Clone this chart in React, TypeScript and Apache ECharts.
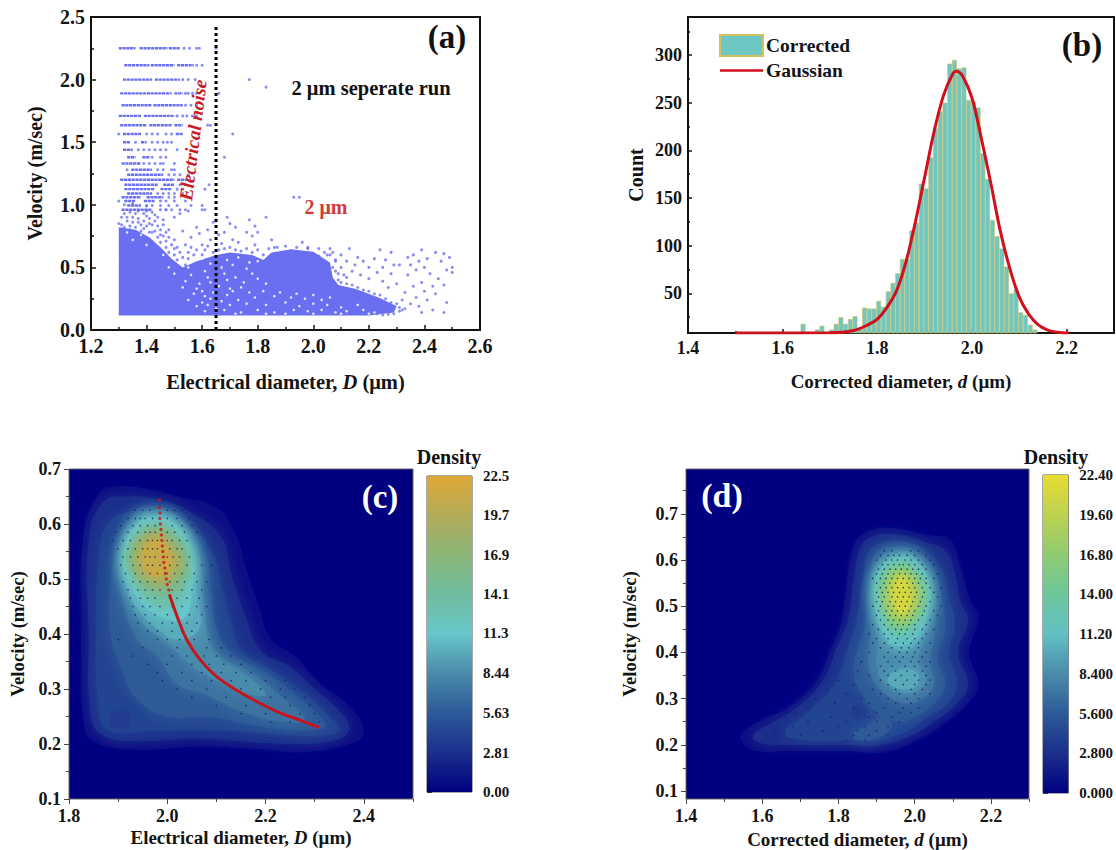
import React, { useEffect, useRef } from "react";
import * as echarts from "echarts";

const FONT = "'Liberation Serif', 'Times New Roman', serif";

// ---------- panel (a) ----------
const aRunsRows: [number, [number, number][], number[]][] = [
  [2.25, [[1.3, 1.36], [1.375, 1.475], [1.48, 1.52]], [1.535, 1.555, 1.58, 1.59, 1.65]],
  [2.115, [[1.32, 1.41], [1.415, 1.5], [1.51, 1.57]], [1.58, 1.6]],
  [2.0, [[1.315, 1.42], [1.43, 1.52]], [1.53, 1.55, 1.575]],
  [1.89, [[1.305, 1.49], [1.5, 1.53]], [1.54, 1.55, 1.565, 1.58, 1.66]],
  [1.795, [[1.31, 1.42], [1.425, 1.53]], [1.54, 1.56, 1.58]],
  [1.71, [[1.3, 1.38], [1.39, 1.5]], [1.51, 1.53, 1.545, 1.565, 1.58]],
  [1.635, [[1.305, 1.4], [1.41, 1.49], [1.5, 1.53]], [1.62, 1.63]],
  [1.565, [[1.315, 1.38], [1.505, 1.53]], [1.3, 1.4, 1.42, 1.44, 1.47, 1.49, 1.71]],
  [1.5, [[1.315, 1.34], [1.38, 1.4]], [1.36, 1.42, 1.44, 1.46, 1.475, 1.49]],
  [1.44, [[1.315, 1.35]], [1.37, 1.39, 1.41, 1.43, 1.45, 1.47, 1.51]],
  [1.38, [[1.33, 1.36], [1.385, 1.41]], [1.42, 1.45, 1.47, 1.68]],
  [1.33, [[1.31, 1.38]], [1.39, 1.41, 1.43, 1.45, 1.46, 1.5]],
  [1.28, [[1.345, 1.42]], [1.33, 1.44, 1.46, 1.49, 1.5]],
  [1.24, [[1.33, 1.46]], [1.48, 1.5, 1.52, 1.55]],
  [1.2, [[1.305, 1.5], [1.51, 1.55]], []],
  [1.16, [[1.32, 1.44], [1.46, 1.5]], [1.52, 1.54, 1.625]],
  [1.125, [[1.32, 1.43], [1.45, 1.49]], [1.51, 1.53, 1.61]],
  [1.09, [[1.33, 1.42]], [1.44, 1.46, 1.48, 1.5, 1.53]],
  [1.06, [[1.31, 1.38], [1.4, 1.46]], [1.48, 1.5, 1.55]],
  [1.03, [[1.32, 1.36], [1.39, 1.43]], [1.3, 1.45, 1.47, 1.5, 1.54]],
  [0.995, [[1.33, 1.38]], [1.4, 1.42, 1.45, 1.48, 1.51, 1.56, 1.6]],
  [0.96, [[1.31, 1.42]], [1.45, 1.47, 1.49, 1.52, 1.54, 1.6, 1.61]],
];
const aBodyLeft = [[1.3, 0.115], [2.2, 0.115], [2.29, 0.14], [2.3, 0.19], [2.24, 0.255], [2.15, 0.33], [2.09, 0.36], [2.07, 0.42], [2.06, 0.54], [2.0, 0.625], [1.92, 0.645], [1.85, 0.62], [1.82, 0.56], [1.78, 0.6], [1.7, 0.62], [1.65, 0.6], [1.58, 0.55], [1.53, 0.5], [1.49, 0.57], [1.45, 0.66], [1.41, 0.74], [1.36, 0.8], [1.3, 0.82]];
const aFlecks = [
  [1.53, 0.55], [1.6, 0.57], [1.63, 0.53], [1.69, 0.56], [1.73, 0.58], [1.77, 0.54], [1.55, 0.5], [1.61, 0.47], [1.67, 0.5], [1.71, 0.52], [1.76, 0.49], [1.8, 0.55],
  [1.5, 0.45], [1.56, 0.44], [1.62, 0.42], [1.68, 0.45], [1.72, 0.42], [1.78, 0.45], [1.48, 0.5], [1.54, 0.39], [1.59, 0.37], [1.63, 0.38], [1.69, 0.4], [1.75, 0.38], [1.8, 0.41],
  [1.53, 0.34], [1.58, 0.33], [1.6, 0.31], [1.66, 0.35], [1.7, 0.33], [1.74, 0.34], [1.83, 0.37], [1.57, 0.29], [1.61, 0.27], [1.64, 0.3], [1.69, 0.28], [1.71, 0.31], [1.77, 0.3], [1.82, 0.31],
  [1.55, 0.24], [1.6, 0.22], [1.63, 0.25], [1.67, 0.23], [1.73, 0.24], [1.79, 0.26], [1.86, 0.27], [1.92, 0.26], [1.97, 0.25], [2.03, 0.24], [1.58, 0.19], [1.62, 0.2], [1.65, 0.17], [1.7, 0.2], [1.76, 0.21], [1.83, 0.2],
  [1.9, 0.22], [1.95, 0.19], [2.0, 0.21], [2.05, 0.2], [2.1, 0.18], [2.16, 0.2], [1.61, 0.15], [1.68, 0.16], [1.74, 0.14], [1.8, 0.16], [1.86, 0.14], [1.93, 0.16], [1.98, 0.15], [2.03, 0.16], [2.08, 0.14], [2.12, 0.15], [2.18, 0.16],
  [1.72, 0.13], [1.83, 0.13], [1.9, 0.13], [2.0, 0.13], [2.1, 0.13], [2.2, 0.13], [1.88, 0.3], [1.94, 0.29], [2.0, 0.28], [2.06, 0.26], [2.22, 0.14], [1.46, 0.6], [1.4, 0.68], [1.35, 0.72], [1.33, 0.78], [1.38, 0.76],
];
const aSparse = [
  [1.31, 0.84], [1.33, 0.9], [1.34, 0.83], [1.36, 0.93], [1.37, 0.86], [1.39, 0.81], [1.4, 0.91], [1.41, 0.85], [1.42, 0.78], [1.43, 0.92], [1.44, 0.83], [1.45, 0.76], [1.46, 0.88], [1.47, 0.71], [1.48, 0.8], [1.5, 0.72], [1.51, 0.66], [1.53, 0.79], [1.54, 0.68], [1.55, 0.62], [1.56, 0.74], [1.52, 0.93], [1.5, 0.9], [1.47, 0.96], [1.55, 0.95],
  [1.58, 0.82], [1.59, 0.77], [1.6, 0.68], [1.62, 0.8], [1.63, 0.72], [1.64, 0.86], [1.65, 0.88], [1.66, 0.76], [1.67, 0.69], [1.68, 0.78], [1.69, 0.9], [1.7, 0.85], [1.71, 0.72], [1.72, 0.82], [1.73, 0.7], [1.76, 0.78], [1.77, 0.88], [1.78, 0.75], [1.79, 0.83], [1.8, 0.78], [1.83, 0.9], [1.79, 0.68], [1.85, 0.72], [1.87, 0.66], [1.96, 0.7], [1.98, 0.65], [1.93, 1.06], [1.95, 1.06], [1.77, 2.0], [1.83, 1.94],
  [2.07, 0.62], [2.06, 0.65], [2.1, 0.6], [2.13, 0.65], [2.12, 0.55], [2.1, 0.5], [2.14, 0.47], [2.15, 0.52], [2.16, 0.58], [2.18, 0.55], [2.12, 0.42], [2.17, 0.44], [2.2, 0.5], [2.2, 0.41], [2.22, 0.57], [2.23, 0.46], [2.24, 0.64], [2.25, 0.5], [2.25, 0.39], [2.26, 0.56], [2.27, 0.34], [2.28, 0.62], [2.28, 0.45], [2.29, 0.52], [2.3, 0.37], [2.31, 0.52],
  [2.33, 0.3], [2.32, 0.24], [2.33, 0.17], [2.34, 0.58], [2.34, 0.44], [2.35, 0.52], [2.35, 0.21], [2.36, 0.6], [2.36, 0.35], [2.37, 0.48], [2.37, 0.26], [2.38, 0.19], [2.38, 0.55], [2.39, 0.64], [2.39, 0.38], [2.39, 0.14], [2.4, 0.5], [2.4, 0.31], [2.41, 0.57], [2.41, 0.24], [2.42, 0.45], [2.43, 0.16], [2.43, 0.35], [2.44, 0.62], [2.44, 0.29], [2.45, 0.41], [2.46, 0.55], [2.47, 0.61], [2.47, 0.14], [2.47, 0.36], [2.48, 0.22], [2.48, 0.48], [2.49, 0.58], [2.5, 0.5], [2.5, 0.46],
  [1.32, 1.0], [1.35, 1.01], [1.4, 0.99], [2.02, 0.59], [2.05, 0.6], [2.08, 0.56], [2.08, 0.47], [2.11, 0.44],
];
const aEdge = [
  [1.3, 0.85], [1.31, 0.9], [1.32, 0.82], [1.32, 0.93], [1.33, 0.87], [1.34, 0.8], [1.34, 0.94], [1.35, 0.86], [1.35, 0.9], [1.36, 0.82], [1.37, 0.95], [1.37, 0.89], [1.38, 0.84], [1.38, 0.79], [1.39, 0.93], [1.39, 0.87], [1.4, 0.83], [1.4, 0.95], [1.41, 0.78], [1.41, 0.89], [1.42, 0.94], [1.42, 0.84], [1.43, 0.79], [1.43, 0.87], [1.44, 0.74], [1.44, 0.9], [1.45, 0.8], [1.45, 0.7], [1.46, 0.84], [1.46, 0.75], [1.47, 0.66], [1.47, 0.78], [1.48, 0.62], [1.48, 0.74], [1.49, 0.68], [1.5, 0.6], [1.5, 0.65], [1.51, 0.56], [1.52, 0.62], [1.53, 0.58], [1.54, 0.52], [1.55, 0.57], [1.56, 0.66], [1.57, 0.6], [1.58, 0.64], [1.6, 0.6], [1.61, 0.64], [1.62, 0.67], [1.64, 0.62], [1.66, 0.64], [1.68, 0.65], [1.7, 0.66], [1.72, 0.64], [1.74, 0.63], [1.76, 0.65], [1.78, 0.62], [1.8, 0.64], [1.82, 0.6], [1.84, 0.65], [1.86, 0.66], [1.9, 0.67], [1.94, 0.66], [1.98, 0.66], [2.02, 0.65], [2.04, 0.62], [2.06, 0.6], [2.08, 0.55], [2.07, 0.5], [2.09, 0.45], [2.09, 0.4], [2.1, 0.38], [2.12, 0.37], [2.14, 0.36], [2.16, 0.34], [2.18, 0.32], [2.2, 0.31], [2.22, 0.29], [2.24, 0.28], [2.26, 0.25], [2.28, 0.22], [2.3, 0.21], [2.31, 0.18], [2.32, 0.16], [2.31, 0.15], [2.29, 0.13], [2.27, 0.125], [2.25, 0.12], [2.23, 0.13],
];
const aNoiseLine = [[1.65, 0], [1.65, 2.44]];

// ---------- panel (b) ----------
const bBinCenters = [1.643, 1.673, 1.683, 1.703, 1.713, 1.723, 1.733, 1.743, 1.753, 1.763, 1.773, 1.783, 1.793, 1.803, 1.813, 1.823, 1.833, 1.843, 1.853, 1.863, 1.873, 1.883, 1.893, 1.903, 1.913, 1.923, 1.933, 1.943, 1.953, 1.963, 1.973, 1.983, 1.993, 2.003, 2.013, 2.023, 2.033, 2.043, 2.053, 2.063, 2.073, 2.083, 2.093, 2.103, 2.113, 2.123, 2.133];
const bCounts = [18, 12, 16, 12, 18, 25, 18, 23, 26, 14, 35, 34, 34, 42, 36, 52, 61, 71, 86, 86, 116, 124, 165, 160, 193, 223, 241, 250, 291, 295, 286, 287, 253, 251, 245, 197, 170, 127, 110, 97, 78, 50, 54, 30, 27, 17, 12];
const bGaussX = [1.5, 1.7, 1.75, 1.78, 1.8, 1.82, 1.84, 1.86, 1.88, 1.9, 1.92, 1.94, 1.96, 1.967, 1.98, 2.0, 2.02, 2.04, 2.06, 2.08, 2.1, 2.12, 2.14, 2.16, 2.18, 2.205];
const bGaussY = [8.4, 8.6, 11, 17, 23, 35, 52, 82, 124, 172, 220, 258, 281, 283, 278, 255, 212, 165, 115, 76, 46, 28, 17, 11.5, 9.2, 8.4];

// ---------- panels (c), (d): density contours, [level, outline] ----------
type Contour = [number, number[][]];
const cContours: Contour[] = [
  [1.0, [[1.86, 0.655], [1.89, 0.668], [1.95, 0.665], [2.02, 0.65], [2.1, 0.63], [2.14, 0.58], [2.16, 0.52], [2.19, 0.44], [2.21, 0.39], [2.26, 0.36], [2.31, 0.31], [2.37, 0.27], [2.4, 0.22], [2.37, 0.2], [2.27, 0.185], [2.2, 0.19], [2.06, 0.195], [1.93, 0.19], [1.85, 0.205], [1.83, 0.235], [1.825, 0.4], [1.83, 0.58]]],
  [2.8, [[1.87, 0.64], [1.92, 0.65], [1.98, 0.645], [2.05, 0.62], [2.11, 0.575], [2.13, 0.51], [2.16, 0.43], [2.19, 0.37], [2.25, 0.34], [2.3, 0.3], [2.35, 0.26], [2.37, 0.225], [2.33, 0.205], [2.25, 0.2], [2.15, 0.205], [2.05, 0.21], [1.94, 0.205], [1.87, 0.215], [1.845, 0.25], [1.84, 0.4], [1.84, 0.57]]],
  [4.2, [[1.88, 0.6], [1.93, 0.625], [1.98, 0.63], [2.04, 0.6], [2.09, 0.55], [2.11, 0.49], [2.13, 0.42], [2.15, 0.37], [2.21, 0.335], [2.28, 0.29], [2.33, 0.25], [2.35, 0.225], [2.3, 0.215], [2.2, 0.22], [2.1, 0.225], [1.98, 0.225], [1.88, 0.225], [1.86, 0.27], [1.855, 0.4], [1.86, 0.53]]],
  [3.6, [[1.885, 0.235], [1.91, 0.23], [1.925, 0.245], [1.91, 0.26], [1.89, 0.255]]],
  [5.6, [[1.9, 0.56], [1.935, 0.62], [1.98, 0.625], [2.03, 0.6], [2.075, 0.55], [2.09, 0.47], [2.1, 0.41], [2.13, 0.365], [2.2, 0.33], [2.26, 0.29], [2.31, 0.25], [2.32, 0.23], [2.26, 0.225], [2.17, 0.235], [2.08, 0.25], [2.0, 0.25], [1.94, 0.28], [1.91, 0.33], [1.885, 0.4], [1.885, 0.5]]],
  [7.0, [[1.9, 0.54], [1.925, 0.605], [1.975, 0.625], [2.025, 0.61], [2.065, 0.55], [2.075, 0.46], [2.085, 0.4], [2.11, 0.36], [2.18, 0.325], [2.24, 0.28], [2.28, 0.245], [2.24, 0.24], [2.15, 0.26], [2.08, 0.29], [2.02, 0.31], [1.98, 0.36], [1.94, 0.39], [1.91, 0.46]]],
  [8.44, [[1.905, 0.54], [1.93, 0.6], [1.975, 0.62], [2.02, 0.605], [2.06, 0.55], [2.07, 0.47], [2.08, 0.4], [2.1, 0.36], [2.16, 0.325], [2.2, 0.29], [2.15, 0.295], [2.09, 0.32], [2.04, 0.35], [2.0, 0.385], [1.95, 0.42], [1.92, 0.47]]],
  [10, [[1.91, 0.54], [1.935, 0.6], [1.975, 0.615], [2.02, 0.6], [2.055, 0.545], [2.06, 0.47], [2.065, 0.41], [2.02, 0.39], [1.98, 0.41], [1.945, 0.44], [1.92, 0.48]]],
  [11.3, [[1.91, 0.54], [1.94, 0.6], [1.98, 0.61], [2.02, 0.595], [2.05, 0.54], [2.05, 0.48], [2.035, 0.43], [1.99, 0.43], [1.95, 0.455], [1.925, 0.49]]],
  [13, [[1.915, 0.54], [1.945, 0.59], [1.98, 0.6], [2.015, 0.585], [2.045, 0.54], [2.04, 0.49], [2.01, 0.45], [1.97, 0.455], [1.94, 0.485]]],
  [15, [[1.925, 0.54], [1.95, 0.582], [1.98, 0.592], [2.01, 0.58], [2.04, 0.54], [2.03, 0.495], [2.0, 0.47], [1.97, 0.475], [1.94, 0.5]]],
  [17, [[1.93, 0.545], [1.955, 0.58], [1.98, 0.587], [2.005, 0.573], [2.032, 0.535], [2.02, 0.5], [1.995, 0.485], [1.965, 0.49], [1.94, 0.51]]],
  [19, [[1.94, 0.545], [1.96, 0.575], [1.98, 0.58], [2.0, 0.565], [2.022, 0.53], [2.01, 0.505], [1.985, 0.495], [1.96, 0.505], [1.945, 0.52]]],
  [21, [[1.95, 0.545], [1.965, 0.567], [1.985, 0.57], [2.0, 0.555], [2.01, 0.53], [1.995, 0.51], [1.975, 0.505], [1.955, 0.52]]],
];
const dContours: Contour[] = [
  [1.0, [[1.543, 0.22], [1.595, 0.253], [1.674, 0.282], [1.744, 0.339], [1.779, 0.405], [1.805, 0.455], [1.823, 0.557], [1.84, 0.629], [1.875, 0.662], [1.945, 0.669], [2.033, 0.654], [2.094, 0.644], [2.12, 0.586], [2.146, 0.513], [2.168, 0.477], [2.142, 0.397], [2.168, 0.332], [2.138, 0.289], [2.076, 0.245], [2.006, 0.209], [1.919, 0.184], [1.814, 0.187], [1.691, 0.187], [1.578, 0.187], [1.551, 0.202]]],
  [2.8, [[1.575, 0.218], [1.62, 0.245], [1.69, 0.28], [1.76, 0.34], [1.795, 0.41], [1.825, 0.47], [1.84, 0.56], [1.855, 0.62], [1.885, 0.65], [1.95, 0.655], [2.02, 0.64], [2.08, 0.62], [2.105, 0.57], [2.12, 0.51], [2.14, 0.47], [2.115, 0.4], [2.14, 0.33], [2.11, 0.29], [2.05, 0.25], [1.99, 0.22], [1.91, 0.2], [1.81, 0.2], [1.69, 0.2], [1.6, 0.203]]],
  [4.2, [[1.66, 0.225], [1.72, 0.27], [1.79, 0.33], [1.825, 0.41], [1.85, 0.48], [1.865, 0.56], [1.875, 0.61], [1.91, 0.635], [1.97, 0.64], [2.03, 0.62], [2.07, 0.58], [2.09, 0.52], [2.105, 0.46], [2.09, 0.4], [2.11, 0.33], [2.08, 0.285], [2.03, 0.26], [1.98, 0.23], [1.9, 0.21], [1.82, 0.21], [1.72, 0.21]]],
  [3.6, [[1.835, 0.265], [1.855, 0.255], [1.875, 0.27], [1.86, 0.285], [1.84, 0.283]]],
  [5.6, [[1.84, 0.36], [1.87, 0.46], [1.885, 0.56], [1.9, 0.615], [1.95, 0.63], [2.0, 0.62], [2.05, 0.58], [2.07, 0.52], [2.08, 0.45], [2.06, 0.39], [2.08, 0.33], [2.05, 0.29], [2.0, 0.26], [1.96, 0.25], [1.9, 0.27], [1.87, 0.3]]],
  [5.6, [[1.84, 0.225], [1.87, 0.24], [1.92, 0.26], [1.94, 0.24], [1.9, 0.215], [1.85, 0.21]]],
  [7.0, [[1.88, 0.37], [1.885, 0.46], [1.885, 0.55], [1.91, 0.605], [1.96, 0.62], [2.01, 0.605], [2.045, 0.56], [2.055, 0.5], [2.05, 0.43], [2.04, 0.38], [2.05, 0.33], [2.02, 0.3], [1.97, 0.29], [1.91, 0.32]]],
  [8.4, [[1.905, 0.355], [1.905, 0.45], [1.89, 0.54], [1.915, 0.595], [1.965, 0.615], [2.005, 0.6], [2.04, 0.55], [2.045, 0.49], [2.025, 0.43], [2.01, 0.38], [2.03, 0.34], [2.0, 0.315], [1.95, 0.32]]],
  [10, [[1.915, 0.44], [1.895, 0.53], [1.915, 0.59], [1.965, 0.61], [2.01, 0.595], [2.04, 0.54], [2.035, 0.48], [2.005, 0.42], [1.96, 0.405]]],
  [10, [[1.93, 0.335], [1.95, 0.36], [2.0, 0.36], [2.01, 0.335], [1.98, 0.32]]],
  [11.2, [[1.915, 0.45], [1.895, 0.53], [1.915, 0.585], [1.965, 0.605], [2.01, 0.59], [2.04, 0.54], [2.03, 0.48], [2.0, 0.43], [1.95, 0.415]]],
  [13, [[1.92, 0.47], [1.905, 0.53], [1.92, 0.575], [1.965, 0.595], [2.0, 0.58], [2.03, 0.535], [2.02, 0.485], [1.99, 0.45], [1.95, 0.44]]],
  [15, [[1.93, 0.48], [1.915, 0.53], [1.93, 0.57], [1.965, 0.585], [1.995, 0.57], [2.02, 0.535], [2.01, 0.49], [1.985, 0.46], [1.95, 0.455]]],
  [17, [[1.935, 0.485], [1.925, 0.53], [1.94, 0.565], [1.965, 0.578], [1.99, 0.565], [2.01, 0.53], [2.0, 0.49], [1.98, 0.47], [1.955, 0.465]]],
  [19, [[1.945, 0.49], [1.935, 0.53], [1.947, 0.56], [1.967, 0.57], [1.985, 0.558], [2.0, 0.53], [1.993, 0.495], [1.975, 0.48], [1.958, 0.478]]],
  [21, [[1.952, 0.5], [1.945, 0.53], [1.955, 0.555], [1.968, 0.56], [1.98, 0.55], [1.99, 0.525], [1.98, 0.495], [1.965, 0.485]]],
];
const cDotRows: [number, number[]][] = [
  [0.625, [1.935, 1.95, 1.965, 2.0, 2.015, 2.03]], [0.61, [1.92, 1.935, 1.945, 1.955, 1.97, 2.0, 2.02, 2.045]], [0.597, [1.905, 1.93, 1.945, 1.96, 1.975, 2.01, 2.03, 2.05]],
  [0.585, [1.895, 1.92, 1.94, 1.955, 1.965, 1.975, 2.0, 2.015, 2.035, 2.06]], [0.57, [1.89, 1.91, 1.925, 1.945, 1.96, 1.97, 1.98, 2.0, 2.01, 2.025, 2.04]], [0.555, [1.9, 1.92, 1.935, 1.95, 1.96, 1.97, 1.98, 2.005, 2.02, 2.03]],
  [0.54, [1.91, 1.925, 1.94, 1.955, 1.965, 1.975, 2.0, 2.012, 2.025, 2.045]], [0.525, [1.905, 1.93, 1.945, 1.96, 1.97, 1.985, 2.005, 2.02, 2.04, 2.07, 2.09]], [0.51, [1.915, 1.935, 1.95, 1.965, 1.98, 2.0, 2.015, 2.03, 2.055]],
  [0.495, [1.91, 1.93, 1.945, 1.96, 1.975, 2.005, 2.02, 2.035, 2.06, 2.08]], [0.48, [1.92, 1.94, 1.955, 1.97, 1.985, 2.01, 2.03, 2.05, 2.07]], [0.465, [1.925, 1.945, 1.96, 1.975, 2.005, 2.02, 2.04, 2.065]],
  [0.45, [1.93, 1.95, 1.965, 1.985, 2.01, 2.03, 2.06, 2.08]], [0.435, [1.935, 1.955, 1.975, 2.0, 2.02, 2.045, 2.07]], [0.42, [1.94, 1.965, 1.99, 2.01, 2.04, 2.06]],
  [0.405, [1.96, 1.98, 2.01, 2.03, 2.05]], [0.39, [1.9, 1.98, 2.0, 2.025, 2.055, 2.085]], [0.375, [1.95, 2.02, 2.05, 2.08, 2.11]], [0.36, [2.01, 2.04, 2.075, 2.1, 2.13, 1.93]],
  [0.345, [1.96, 2.0, 2.05, 2.085, 2.115, 2.15]], [0.33, [2.03, 2.07, 2.11, 2.14, 2.17, 1.98]], [0.315, [1.99, 2.05, 2.09, 2.13, 2.16, 2.2, 2.24]], [0.3, [2.02, 2.08, 2.15, 2.19, 2.23, 2.26]],
  [0.285, [2.05, 2.12, 2.21, 2.24, 2.28]], [0.27, [2.1, 2.16, 2.25, 2.29]], [0.255, [2.15, 2.2, 2.27, 2.3]], [0.24, [2.21, 2.25, 2.31]],
];
const dDotRows: [number, number[]][] = [
  [0.62, [1.92, 1.94, 1.99, 2.01]], [0.61, [1.91, 1.93, 1.945, 1.96, 1.98, 2.0, 2.03]], [0.6, [1.9, 1.925, 1.94, 1.955, 1.975, 1.99, 2.01, 2.04]],
  [0.59, [1.915, 1.93, 1.945, 1.96, 1.97, 1.985, 2.0, 2.02, 2.05]], [0.58, [1.905, 1.92, 1.935, 1.95, 1.965, 1.98, 1.995, 2.01, 2.03]], [0.57, [1.9, 1.915, 1.93, 1.945, 1.96, 1.975, 1.99, 2.005, 2.02, 2.06]],
  [0.56, [1.89, 1.91, 1.925, 1.94, 1.955, 1.97, 1.985, 2.0, 2.015, 2.03, 2.05]], [0.55, [1.9, 1.92, 1.935, 1.95, 1.965, 1.98, 1.995, 2.01, 2.03]], [0.54, [1.91, 1.925, 1.94, 1.955, 1.97, 1.985, 2.0, 2.02, 2.04, 2.07]],
  [0.53, [1.9, 1.915, 1.93, 1.945, 1.96, 1.975, 1.99, 2.005, 2.025, 2.05]], [0.52, [1.905, 1.92, 1.94, 1.955, 1.97, 1.985, 2.0, 2.02, 2.06]], [0.51, [1.9, 1.915, 1.935, 1.95, 1.965, 1.98, 1.995, 2.015, 2.04]],
  [0.5, [1.89, 1.91, 1.93, 1.945, 1.96, 1.975, 1.99, 2.01, 2.03, 2.07]], [0.49, [1.905, 1.925, 1.94, 1.955, 1.97, 1.985, 2.0, 2.025, 2.05]], [0.48, [1.9, 1.92, 1.935, 1.95, 1.965, 1.98, 1.995, 2.02, 2.06]],
  [0.47, [1.91, 1.93, 1.945, 1.96, 1.975, 1.99, 2.01, 2.04]], [0.46, [1.89, 1.92, 1.94, 1.955, 1.97, 1.985, 2.0, 2.03]], [0.45, [1.905, 1.93, 1.95, 1.965, 1.98, 2.0, 2.02, 2.05]],
  [0.44, [1.88, 1.92, 1.94, 1.96, 1.975, 1.995, 2.03]], [0.43, [1.9, 1.93, 1.955, 1.98, 2.0, 2.02]], [0.42, [1.89, 1.92, 1.95, 1.97, 1.99, 2.01, 2.04]], [0.41, [1.91, 1.94, 1.965, 1.985, 2.01]],
  [0.4, [1.88, 1.93, 1.96, 1.98, 2.0, 2.03]], [0.39, [1.92, 1.95, 1.97, 1.995, 2.02]], [0.38, [1.86, 1.93, 1.96, 1.99, 2.01, 2.04]], [0.37, [1.91, 1.94, 1.975, 2.0, 2.03]], [0.36, [1.85, 1.92, 1.95, 1.98, 2.02]],
  [0.35, [1.88, 1.93, 1.965, 2.0, 2.03]], [0.34, [1.8, 1.91, 1.95, 1.98, 2.01, 2.04]], [0.33, [1.84, 1.93, 1.97, 2.0, 2.03]], [0.32, [1.77, 1.89, 1.95, 1.99, 2.02]], [0.31, [1.82, 1.91, 1.96, 2.0, 2.04]],
  [0.3, [1.74, 1.86, 1.93, 1.98, 2.01]], [0.29, [1.79, 1.88, 1.95, 1.99]], [0.28, [1.72, 1.84, 1.92, 1.97, 2.01]], [0.27, [1.69, 1.9, 1.96, 1.99]], [0.26, [1.66, 1.78, 1.88, 1.94]], [0.25, [1.72, 1.82, 1.9, 1.96]],
  [0.24, [1.68, 1.8, 1.87, 1.93]], [0.23, [1.63, 1.76, 1.85, 1.9]], [0.22, [1.7, 1.84, 1.88, 1.93]], [0.21, [1.82, 1.87]],
];
const cCurveDots = [[1.984, 0.644], [1.984, 0.63], [1.985, 0.62], [1.985, 0.61], [1.986, 0.6], [1.987, 0.59], [1.988, 0.58], [1.989, 0.57], [1.99, 0.56], [1.991, 0.55], [1.992, 0.54], [1.993, 0.53], [1.995, 0.52], [1.996, 0.51], [1.998, 0.5], [2.0, 0.49], [2.003, 0.48], [2.005, 0.47]];
const cCurveLine = [[2.005, 0.47], [2.02, 0.432], [2.04, 0.389], [2.067, 0.353], [2.101, 0.322], [2.135, 0.301], [2.176, 0.28], [2.223, 0.259], [2.271, 0.243], [2.308, 0.23]];

const rampCValues = [0, 2.81, 5.63, 8.44, 11.3, 14.1, 16.9, 19.7, 22.5];
const rampCColors = ["#000080", "#1b2f8b", "#2d5a98", "#4a8bab", "#68c6ca", "#70bd9f", "#8ab578", "#b3ab57", "#e0a838"];
const rampDValues = [0, 2.8, 5.6, 8.4, 11.2, 14, 16.8, 19.6, 22.4];
const rampDColors = ["#000080", "#1b2f8b", "#2d5a98", "#4a8bab", "#62c0c4", "#6cc79b", "#8fcb72", "#bdd24f", "#e8dc30"];
const cbarCLabels = ["0.00", "2.81", "5.63", "8.44", "11.3", "14.1", "16.9", "19.7", "22.5"];
const cbarDLabels = ["0.000", "2.800", "5.600", "8.400", "11.20", "14.00", "16.80", "19.60", "22.40"];

const hex = (c: string) => [1, 3, 5].map((i) => parseInt(c.slice(i, i + 2), 16));
function colorAt(v: number, vals: number[], cols: string[]) {
  let i = 0;
  while (i < vals.length - 2 && v > vals[i + 1]) i++;
  const t = (v - vals[i]) / (vals[i + 1] - vals[i]);
  const a = hex(cols[i]), b = hex(cols[i + 1]);
  return `rgb(${a.map((x, k) => Math.round(x + (b[k] - x) * t)).join(",")})`;
}

const BLUE = "#6a6ff2";
const BLACK = "#141414";

const xAxes: any[] = [];
const yAxes: any[] = [];
function axisPair(list: any[], grid: number, position: string, min: number, max: number, majors: number[], minors: number[], o: any) {
  const index = list.length;
  const common = { type: "value", gridIndex: grid, position, min, max, splitLine: { show: false }, axisLine: { show: false } };
  list.push({
    ...common,
    name: o.name,
    nameLocation: "middle",
    nameGap: o.nameGap,
    nameTextStyle: { fontFamily: FONT, fontWeight: "bold", fontSize: o.nameSize, color: BLACK, rich: { i: { fontFamily: FONT, fontStyle: "italic", fontWeight: "bold", fontSize: o.nameSize, color: BLACK } } },
    axisLabel: { show: true, customValues: majors, formatter: o.fmt, fontFamily: FONT, fontWeight: "bold", fontSize: o.labelSize, color: BLACK, margin: o.margin },
    axisTick: { show: true, customValues: majors, inside: o.inside, length: o.tick, lineStyle: { color: o.tickColor, width: o.tickWidth } },
  });
  list.push({
    ...common,
    axisLabel: { show: false },
    axisTick: { show: minors.length > 0, customValues: minors, inside: o.inside, length: o.tick - 2, lineStyle: { color: o.tickColor, width: o.tickWidth } },
  });
  return index;
}
const f1 = (v: number) => v.toFixed(1);
const f0 = (v: number) => String(Math.round(v));

// x / y axes of the four panels
const ax = axisPair(xAxes, 0, "bottom", 1.2, 2.6, [1.2, 1.4, 1.6, 1.8, 2.0, 2.2, 2.4, 2.6], [1.3, 1.5, 1.7, 1.9, 2.1, 2.3, 2.5], { name: "Electrical diameter, {i|D} (μm)", nameGap: 41, nameSize: 20.5, labelSize: 20, margin: 6, inside: true, tick: 5, tickColor: BLACK, tickWidth: 1.5, fmt: f1 });
const ay = axisPair(yAxes, 0, "left", 0, 2.5, [0, 0.5, 1, 1.5, 2, 2.5], [0.25, 0.75, 1.25, 1.75, 2.25], { name: "Velocity (m/sec)", nameGap: 46, nameSize: 20, labelSize: 20, margin: 6, inside: true, tick: 5, tickColor: BLACK, tickWidth: 1.5, fmt: f1 });
const bx = axisPair(xAxes, 1, "bottom", 1.4, 2.3, [1.4, 1.6, 1.8, 2.0, 2.2], [1.5, 1.7, 1.9, 2.1], { name: "Corrected diameter, {i|d} (μm)", nameGap: 39, nameSize: 19, labelSize: 18, margin: 6, inside: true, tick: 4, tickColor: BLACK, tickWidth: 1.5, fmt: f1 });
const by = axisPair(yAxes, 1, "left", 8.4, 340, [50, 100, 150, 200, 250, 300], [25, 75, 125, 175, 225, 275, 325], { name: "Count", nameGap: 42, nameSize: 20, labelSize: 18, margin: 6, inside: true, tick: 4, tickColor: BLACK, tickWidth: 1.5, fmt: f0 });
const cx = axisPair(xAxes, 2, "bottom", 1.8, 2.5, [1.8, 2.0, 2.2, 2.4], [1.9, 2.1, 2.3, 2.5], { name: "Electrical diameter, {i|D} (μm)", nameGap: 29, nameSize: 19, labelSize: 18, margin: 8, inside: false, tick: 5, tickColor: "#444", tickWidth: 1, fmt: f1 });
const cy = axisPair(yAxes, 2, "left", 0.1, 0.7, [0.1, 0.2, 0.3, 0.4, 0.5, 0.6, 0.7], [0.15, 0.25, 0.35, 0.45, 0.55, 0.65], { name: "Velocity (m/sec)", nameGap: 42, nameSize: 18.7, labelSize: 18, margin: 8, inside: false, tick: 5, tickColor: "#444", tickWidth: 1, fmt: f1 });
const dx = axisPair(xAxes, 3, "bottom", 1.4, 2.3, [1.4, 1.6, 1.8, 2.0, 2.2], [1.5, 1.7, 1.9, 2.1, 2.3], { name: "Corrected diameter, {i|d} (μm)", nameGap: 31, nameSize: 19, labelSize: 18, margin: 8, inside: false, tick: 5, tickColor: "#444", tickWidth: 1, fmt: f1 });
const dy = axisPair(yAxes, 3, "left", 0.0826, 0.797, [0.1, 0.2, 0.3, 0.4, 0.5, 0.6, 0.7], [0.15, 0.25, 0.35, 0.45, 0.55, 0.65, 0.75], { name: "Velocity (m/sec)", nameGap: 47, nameSize: 18.7, labelSize: 18, margin: 8, inside: false, tick: 5, tickColor: "#444", tickWidth: 1, fmt: f1 });
// colour bars
const ex = axisPair(xAxes, 4, "bottom", 0, 1, [], [], { labelSize: 1, margin: 1, inside: false, tick: 2, tickColor: "#444", tickWidth: 0, fmt: f1 });
xAxes[ex].axisLabel.show = false; xAxes[ex].axisTick.show = false;
const ey = axisPair(yAxes, 4, "right", 0, 22.5, rampCValues, [], { labelSize: 15, margin: 11, inside: false, tick: 5, tickColor: "#333", tickWidth: 1, fmt: (v: number) => cbarCLabels[rampCValues.indexOf(v)] });
const fx = axisPair(xAxes, 5, "bottom", 0, 1, [], [], { labelSize: 1, margin: 1, inside: false, tick: 2, tickColor: "#444", tickWidth: 0, fmt: f1 });
xAxes[fx].axisLabel.show = false; xAxes[fx].axisTick.show = false;
const fy = axisPair(yAxes, 5, "right", 0, 22.4, rampDValues, [], { labelSize: 15, margin: 11, inside: false, tick: 5, tickColor: "#333", tickWidth: 1, fmt: (v: number) => cbarDLabels[rampDValues.indexOf(v)] });

function contourSeries(list: Contour[], xi: number, yi: number, vals: number[], cols: string[]) {
  return {
    type: "custom", xAxisIndex: xi, yAxisIndex: yi, clip: true, z: 2, silent: true,
    encode: { x: 0, y: 1 },
    data: list.map((c, i) => [c[1][0][0], c[1][0][1], i]),
    renderItem: (params: any, api: any) => {
      const c = list[params.dataIndex];
      const fill = colorAt(c[0], vals, cols);
      return { type: "polygon", shape: { points: c[1].map((p) => api.coord(p)), smooth: 0.45 }, style: { fill, shadowBlur: 13, shadowColor: fill } };
    },
  };
}
function colorbarSeries(top: number, xi: number, yi: number, vals: number[], cols: string[]) {
  return {
    type: "custom", xAxisIndex: xi, yAxisIndex: yi, z: 2, silent: true, encode: { x: 0, y: 1 },
    data: [[0, 0, 1, top]],
    renderItem: (_: any, api: any) => {
      const a = api.coord([0, top]), b = api.coord([1, 0]);
      const stops = vals.map((v, i) => ({ offset: v / top, color: cols[i] }));
      return { type: "rect", shape: { x: a[0], y: a[1], width: b[0] - a[0], height: b[1] - a[1] }, style: { fill: new echarts.graphic.LinearGradient(0, 1, 0, 0, stops) } };
    },
  };
}
const flatRows = (rows: [number, number[]][]) => rows.flatMap(([y, xs]) => xs.map((x) => [x, y]));
const panelText = (text: string, x: number, y: number, size: number, fill: string, color?: string) => ({ type: "text", x, y, z: 20, style: { text, fontFamily: FONT, fontWeight: "bold", fontSize: size, fill: color || fill, textAlign: "center", textVerticalAlign: "middle" } });

const option: any = {
  animation: false,
  backgroundColor: "#fff",
  grid: [
    { left: 91, top: 17, width: 389, height: 313, show: true, borderColor: "#111", borderWidth: 2, backgroundColor: "#fff" },
    { left: 688, top: 17, width: 426, height: 316, show: true, borderColor: "#111", borderWidth: 2, backgroundColor: "#fff" },
    { left: 69, top: 469, width: 344, height: 330, show: true, borderColor: "#666", borderWidth: 1, backgroundColor: "#000080" },
    { left: 686, top: 469, width: 343, height: 330, show: true, borderColor: "#666", borderWidth: 1, backgroundColor: "#000080" },
    { left: 427, top: 476, width: 45, height: 316, show: true, borderColor: "#555", borderWidth: 1 },
    { left: 1043, top: 475, width: 27, height: 318, show: true, borderColor: "#555", borderWidth: 1 },
  ],
  xAxis: xAxes,
  yAxis: yAxes,
  legend: {
    left: 719, top: 34, orient: "vertical", itemWidth: 43, itemHeight: 21, itemGap: 3, padding: 0,
    selectedMode: false,
    textStyle: { fontFamily: FONT, fontWeight: "bold", fontSize: 19.5, color: BLACK, padding: [0, 0, 0, -2] },
    data: [
      { name: "Corrected", icon: "rect" },
      { name: "Gaussian", icon: "path://M0,0L0.01,0L0,0.01Z M0,9.2L43,9.2L43,11.8L0,11.8Z M43,21L42.99,21L43,20.99Z" },
    ],
  },
  series: [
    // panel (a)
    {
      type: "custom", xAxisIndex: ax, yAxisIndex: ay, z: 2, silent: true, encode: { x: 0, y: 1 },
      data: [[1.3, 0.115]],
      renderItem: (_: any, api: any) => ({ type: "polygon", shape: { points: aBodyLeft.map((p) => api.coord(p)) }, style: { fill: BLUE } }),
    },
    {
      type: "custom", xAxisIndex: ax, yAxisIndex: ay, z: 3, silent: true, encode: { x: 0, y: 1 },
      data: aRunsRows.flatMap(([y, runs]) => runs.map((r) => [r[0], y, r[1]])),
      renderItem: (_: any, api: any) => {
        const a = api.coord([api.value(0), api.value(1)]), b = api.coord([api.value(2), api.value(1)]);
        return { type: "line", shape: { x1: a[0], y1: a[1], x2: b[0], y2: b[1] }, style: { stroke: BLUE, lineWidth: 2.4, lineDash: [3.2, 0.6] } };
      },
    },
    { type: "scatter", xAxisIndex: ax, yAxisIndex: ay, z: 3, silent: true, symbolSize: 2.6, itemStyle: { color: "#fff" }, data: aFlecks },
    { type: "scatter", xAxisIndex: ax, yAxisIndex: ay, z: 3, silent: true, symbolSize: 3, itemStyle: { color: BLUE }, data: [...aSparse, ...aEdge, ...aRunsRows.flatMap(([y, , pts]) => pts.map((x) => [x, y]))] },
    { type: "line", xAxisIndex: ax, yAxisIndex: ay, z: 5, silent: true, symbol: "none", lineStyle: { color: "#000", width: 3, type: [3, 3] }, data: aNoiseLine },
    // panel (b)
    { name: "Corrected", type: "bar", xAxisIndex: bx, yAxisIndex: by, z: 2, silent: true, barWidth: 4.8, itemStyle: { color: "#6fc7c3", borderColor: "#cfc060", borderWidth: 0.6 }, data: bBinCenters.map((x, i) => [x, bCounts[i]]) },
    { name: "Gaussian", type: "line", xAxisIndex: bx, yAxisIndex: by, z: 4, silent: true, symbol: "none", smooth: 0.35, itemStyle: { color: "#d0101c" }, lineStyle: { color: "#d0101c", width: 3 }, data: bGaussX.map((x, i) => [x, bGaussY[i]]) },
    // panel (c)
    contourSeries(cContours, cx, cy, rampCValues, rampCColors),
    { type: "scatter", xAxisIndex: cx, yAxisIndex: cy, z: 3, silent: true, symbolSize: 1.5, itemStyle: { color: "#14145a" }, data: flatRows(cDotRows) },
    { type: "line", xAxisIndex: cx, yAxisIndex: cy, z: 4, silent: true, symbol: "none", smooth: 0.3, lineStyle: { color: "#c8141c", width: 3 }, data: cCurveLine },
    { type: "scatter", xAxisIndex: cx, yAxisIndex: cy, z: 4, silent: true, symbolSize: 3.2, itemStyle: { color: "#c8141c" }, data: cCurveDots },
    // panel (d)
    contourSeries(dContours, dx, dy, rampDValues, rampDColors),
    { type: "scatter", xAxisIndex: dx, yAxisIndex: dy, z: 3, silent: true, symbolSize: 1.5, itemStyle: { color: "#14145a" }, data: flatRows(dDotRows) },
    // colour bars
    colorbarSeries(22.5, ex, ey, rampCValues, rampCColors),
    colorbarSeries(22.4, fx, fy, rampDValues, rampDColors),
  ],
  graphic: [
    panelText("(a)", 447, 37, 33, "#111"),
    panelText("(b)", 1082, 45, 33, "#111"),
    panelText("(c)", 380, 497, 33, "#fff"),
    panelText("(d)", 722, 495, 34, "#fff"),
    panelText("2 μm seperate run", 371, 88, 20.5, "#111"),
    panelText("2 μm", 326, 207, 20, "#d03a3a"),
    panelText("Density", 449, 457, 20, "#111"),
    panelText("Density", 1056, 457, 20, "#111"),
    { type: "text", x: 193, y: 140, rotation: (83 * Math.PI) / 180, z: 20, style: { text: "Electrical noise", fontFamily: FONT, fontWeight: "bold", fontStyle: "italic", fontSize: 19, fill: "#c81c24", textAlign: "center", textVerticalAlign: "middle" } },
  ],
};

export default function App() {
  const ref = useRef<HTMLDivElement>(null);
  useEffect(() => {
    const chart = echarts.init(ref.current!, undefined, { renderer: "svg" });
    chart.setOption(option);
    return () => chart.dispose();
  }, []);
  return <div ref={ref} style={{ position: "absolute", left: 0, top: 0, width: 1116, height: 850 }} />;
}
